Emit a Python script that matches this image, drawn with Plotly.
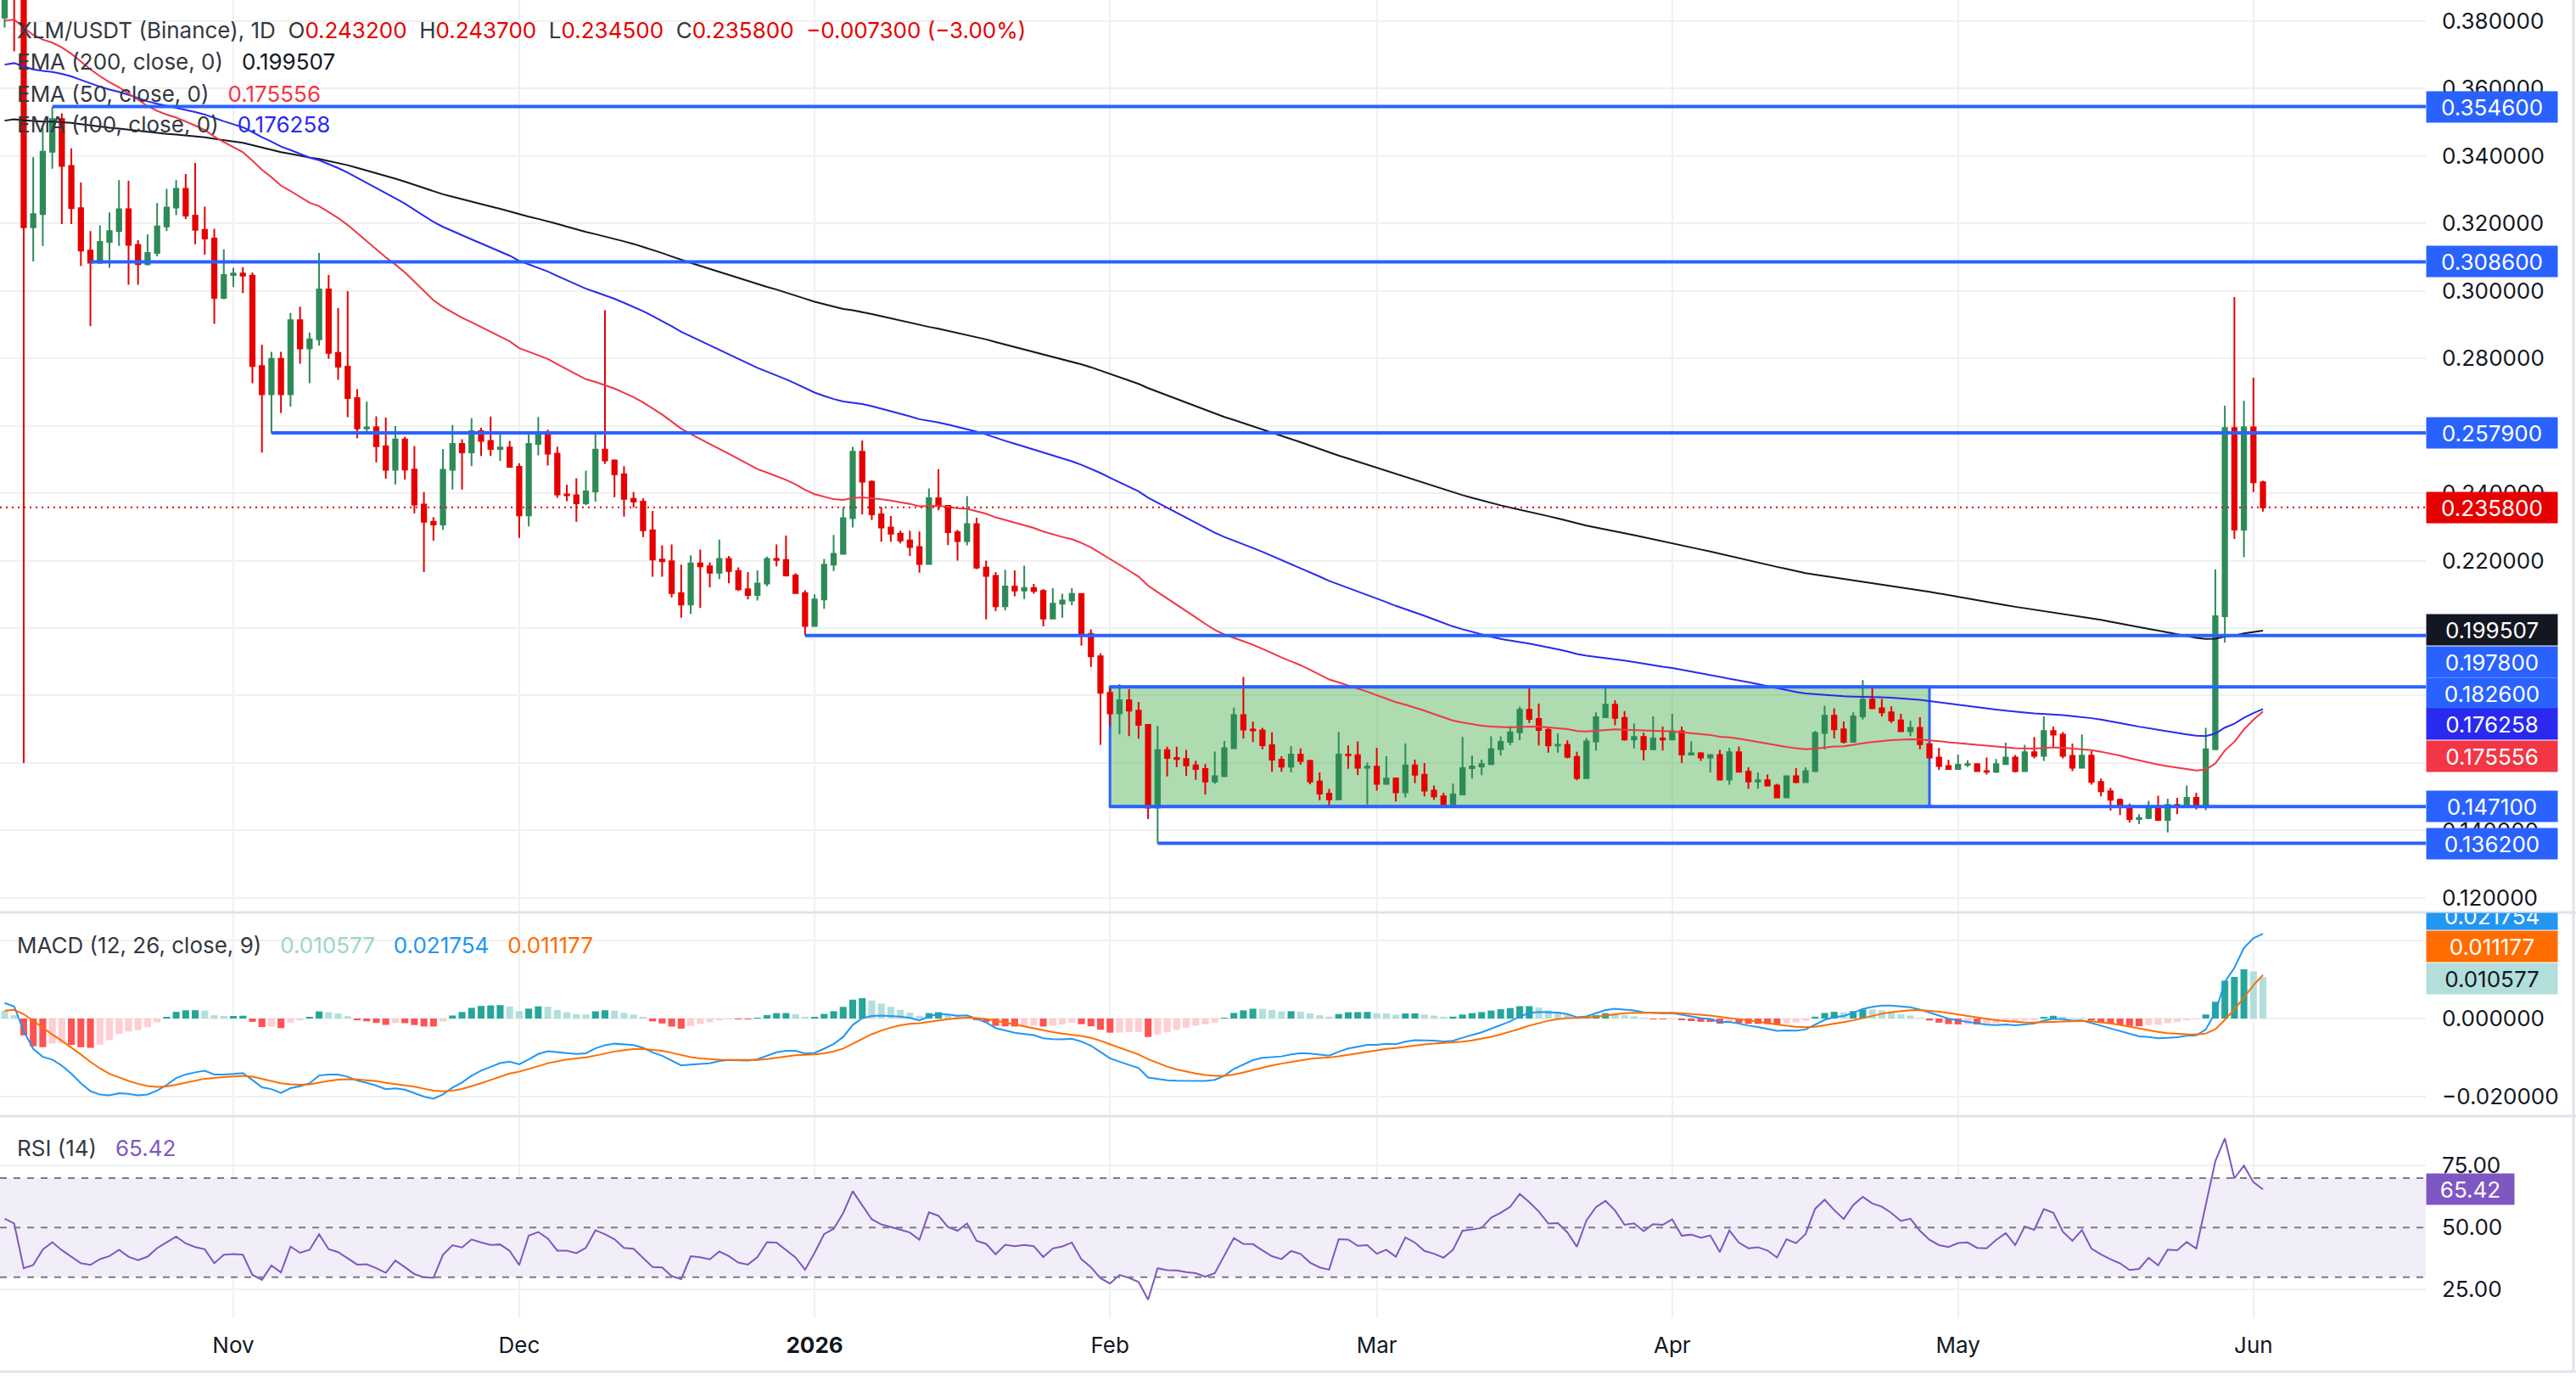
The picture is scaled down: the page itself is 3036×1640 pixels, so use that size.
import pandas as pd
import plotly.graph_objects as go
from plotly.subplots import make_subplots

# ---------------- data ----------------
START_DATE = "2025-10-08"

open_oct = [0.381, 0.394, 0.389, 0.3188, 0.3227, 0.3412, 0.3509, 0.3370, 0.3245, 0.3119, 0.3083, 0.3145,
            0.3177, 0.3242, 0.3136, 0.3079, 0.3112, 0.3191, 0.3247, 0.3302, 0.3223, 0.3181, 0.3155, 0.2979]
high_oct = [0.398, 0.397, 0.392, 0.3396, 0.3483, 0.3545, 0.3526, 0.3422, 0.3321, 0.3177, 0.3194, 0.3232,
            0.3328, 0.3326, 0.3150, 0.3167, 0.3260, 0.3302, 0.3328, 0.3346, 0.3379, 0.3249, 0.3184, 0.3123]
low_oct = [0.378, 0.371, 0.160, 0.3087, 0.3133, 0.3362, 0.3198, 0.3198, 0.3073, 0.2895, 0.3080, 0.3068,
           0.3133, 0.3018, 0.3018, 0.3075, 0.3102, 0.3177, 0.3224, 0.3213, 0.3138, 0.3107, 0.2902, 0.2975]
close_oct = [0.394, 0.389, 0.3188, 0.3227, 0.3412, 0.3509, 0.3370, 0.3245, 0.3119, 0.3083, 0.3145, 0.3177,
             0.3242, 0.3136, 0.3079, 0.3112, 0.3191, 0.3247, 0.3302, 0.3223, 0.3181, 0.3155, 0.2979, 0.3047]

open_nov = [0.3047, 0.3051, 0.3045, 0.2777, 0.2693, 0.2798, 0.2693, 0.2913, 0.2829, 0.2856, 0.3004, 0.2816,
            0.2775, 0.2682, 0.2592, 0.2595, 0.2539, 0.2469, 0.2559, 0.2470, 0.2366, 0.2315, 0.2307, 0.2469,
            0.2546, 0.2521, 0.2584, 0.2555, 0.2531, 0.2535]
high_nov = [0.3068, 0.3070, 0.3054, 0.2840, 0.2819, 0.2819, 0.2934, 0.2953, 0.2876, 0.3112, 0.3047, 0.2949,
            0.2999, 0.2708, 0.2671, 0.2628, 0.2624, 0.2599, 0.2567, 0.2540, 0.2403, 0.2329, 0.2531, 0.2602,
            0.2560, 0.2622, 0.2594, 0.2627, 0.2574, 0.2555]
low_nov = [0.3011, 0.2993, 0.2726, 0.2520, 0.2578, 0.2638, 0.2657, 0.2784, 0.2726, 0.2837, 0.2798, 0.2736,
           0.2625, 0.2563, 0.2580, 0.2491, 0.2443, 0.2426, 0.2440, 0.2340, 0.2166, 0.2259, 0.2291, 0.2411,
           0.2411, 0.2480, 0.2510, 0.2510, 0.2495, 0.2476]
close_nov = [0.3051, 0.3045, 0.2777, 0.2693, 0.2798, 0.2693, 0.2913, 0.2829, 0.2856, 0.3004, 0.2816, 0.2775,
             0.2682, 0.2592, 0.2595, 0.2539, 0.2469, 0.2559, 0.2470, 0.2366, 0.2315, 0.2307, 0.2469, 0.2546,
             0.2521, 0.2584, 0.2555, 0.2531, 0.2535, 0.2478]

open_dec = [0.2478, 0.2334, 0.2546, 0.2576, 0.2517, 0.2396, 0.2394, 0.2370, 0.2405, 0.2529, 0.2497, 0.2456,
            0.2383, 0.2375, 0.2290, 0.2203, 0.2198, 0.2104, 0.2070, 0.2192, 0.2183, 0.2164, 0.2205, 0.2169,
            0.2115, 0.2098, 0.2132, 0.2205, 0.2202, 0.2156, 0.2104]
high_dec = [0.2489, 0.2574, 0.2626, 0.2588, 0.2538, 0.2425, 0.2444, 0.2467, 0.2581, 0.2942, 0.2500, 0.2480,
            0.2403, 0.2385, 0.2347, 0.2245, 0.2248, 0.2188, 0.2216, 0.2233, 0.2195, 0.2262, 0.2214, 0.2180,
            0.2166, 0.2171, 0.2212, 0.2248, 0.2274, 0.2162, 0.2112]
low_dec = [0.2267, 0.2301, 0.2512, 0.2482, 0.2386, 0.2376, 0.2315, 0.2365, 0.2375, 0.2487, 0.2388, 0.2330,
           0.2357, 0.2270, 0.2152, 0.2152, 0.2091, 0.2031, 0.2042, 0.2060, 0.2121, 0.2145, 0.2133, 0.2110,
           0.2085, 0.2082, 0.2124, 0.2183, 0.2153, 0.2102, 0.1978]
close_dec = [0.2334, 0.2546, 0.2576, 0.2517, 0.2396, 0.2394, 0.2370, 0.2405, 0.2529, 0.2497, 0.2456, 0.2383,
             0.2375, 0.2290, 0.2203, 0.2198, 0.2104, 0.2070, 0.2192, 0.2183, 0.2164, 0.2205, 0.2169, 0.2115,
             0.2098, 0.2132, 0.2205, 0.2202, 0.2156, 0.2104, 0.2006]

open_jan = [0.2006, 0.2085, 0.2188, 0.2220, 0.2326, 0.2523, 0.2434, 0.2337, 0.2298, 0.2280, 0.2260, 0.2240,
            0.2190, 0.2385, 0.2362, 0.2284, 0.2258, 0.2308, 0.2179, 0.2155, 0.2065, 0.2123, 0.2111, 0.2119,
            0.2110, 0.2028, 0.2072, 0.2082, 0.2101, 0.1983, 0.1916]
high_jan = [0.2100, 0.2205, 0.2276, 0.2357, 0.2537, 0.2556, 0.2438, 0.2359, 0.2332, 0.2289, 0.2289, 0.2286,
            0.2414, 0.2471, 0.2364, 0.2291, 0.2391, 0.2327, 0.2200, 0.2166, 0.2173, 0.2171, 0.2185, 0.2131,
            0.2116, 0.2118, 0.2102, 0.2118, 0.2103, 0.1996, 0.1925]
low_jan = [0.2004, 0.2057, 0.2169, 0.2218, 0.2298, 0.2337, 0.2320, 0.2256, 0.2256, 0.2251, 0.2214, 0.2164,
           0.2188, 0.2349, 0.2246, 0.2200, 0.2245, 0.2175, 0.2026, 0.2050, 0.2053, 0.2094, 0.2086, 0.2102,
           0.2005, 0.2026, 0.2031, 0.2067, 0.1948, 0.1885, 0.1654]
close_jan = [0.2085, 0.2188, 0.2220, 0.2326, 0.2523, 0.2434, 0.2337, 0.2298, 0.2280, 0.2260, 0.2240, 0.2190,
             0.2385, 0.2362, 0.2284, 0.2258, 0.2308, 0.2179, 0.2155, 0.2065, 0.2123, 0.2111, 0.2119, 0.2110,
             0.2028, 0.2072, 0.2082, 0.2101, 0.1983, 0.1916, 0.1808]

open_feb = [0.1808, 0.1747, 0.1786, 0.1755, 0.1713, 0.1468, 0.1638, 0.1615, 0.1612, 0.1593, 0.1582, 0.1545,
            0.1561, 0.1644, 0.1742, 0.1699, 0.1697, 0.1653, 0.1610, 0.1589, 0.1625, 0.1606, 0.1545, 0.1509,
            0.1492, 0.1625, 0.1623, 0.1586]
high_feb = [0.1821, 0.1834, 0.1819, 0.1781, 0.1715, 0.1710, 0.1648, 0.1648, 0.1639, 0.1607, 0.1597, 0.1634,
            0.1665, 0.1764, 0.1855, 0.1723, 0.1704, 0.1691, 0.1620, 0.1650, 0.1643, 0.1610, 0.1572, 0.1523,
            0.1692, 0.1652, 0.1664, 0.1601]
low_feb = [0.1709, 0.1685, 0.1680, 0.1672, 0.1434, 0.1362, 0.1560, 0.1588, 0.1562, 0.1550, 0.1507, 0.1538,
           0.1558, 0.1642, 0.1673, 0.1662, 0.1641, 0.1574, 0.1574, 0.1572, 0.1595, 0.1537, 0.1490, 0.1473,
           0.1490, 0.1583, 0.1564, 0.1477]
close_feb = [0.1747, 0.1786, 0.1755, 0.1713, 0.1468, 0.1638, 0.1615, 0.1612, 0.1593, 0.1582, 0.1545, 0.1561,
             0.1644, 0.1742, 0.1699, 0.1697, 0.1653, 0.1610, 0.1589, 0.1625, 0.1606, 0.1545, 0.1509, 0.1492,
             0.1625, 0.1623, 0.1586, 0.1589]

open_mar = [0.1589, 0.1538, 0.1554, 0.1513, 0.1593, 0.1565, 0.1518, 0.1501, 0.1478, 0.1507, 0.1585, 0.1590,
            0.1597, 0.1641, 0.1663, 0.1691, 0.1758, 0.1731, 0.1698, 0.1652, 0.1654, 0.1618, 0.1555, 0.1664,
            0.1736, 0.1773, 0.1734, 0.1670, 0.1677, 0.1641, 0.1673]
high_mar = [0.1645, 0.1620, 0.1557, 0.1658, 0.1610, 0.1600, 0.1533, 0.1512, 0.1539, 0.1677, 0.1622, 0.1610,
            0.1679, 0.1679, 0.1710, 0.1767, 0.1824, 0.1776, 0.1708, 0.1687, 0.1667, 0.1633, 0.1674, 0.1750,
            0.1824, 0.1786, 0.1754, 0.1717, 0.1690, 0.1738, 0.1708]
low_mar = [0.1518, 0.1535, 0.1486, 0.1498, 0.1540, 0.1501, 0.1491, 0.1467, 0.1476, 0.1505, 0.1554, 0.1564,
           0.1595, 0.1622, 0.1653, 0.1668, 0.1719, 0.1652, 0.1631, 0.1631, 0.1614, 0.1549, 0.1553, 0.1637,
           0.1734, 0.1712, 0.1666, 0.1643, 0.1608, 0.1639, 0.1637]
close_mar = [0.1538, 0.1554, 0.1513, 0.1593, 0.1565, 0.1518, 0.1501, 0.1478, 0.1507, 0.1585, 0.1590, 0.1597,
             0.1641, 0.1663, 0.1691, 0.1758, 0.1731, 0.1698, 0.1652, 0.1654, 0.1618, 0.1555, 0.1664, 0.1736,
             0.1773, 0.1734, 0.1670, 0.1677, 0.1641, 0.1673, 0.1670]

open_apr = [0.1670, 0.1694, 0.1625, 0.1629, 0.1616, 0.1624, 0.1551, 0.1632, 0.1574, 0.1545, 0.1549, 0.1533,
            0.1498, 0.1561, 0.1543, 0.1576, 0.1689, 0.1740, 0.1700, 0.1663, 0.1738, 0.1788, 0.1762, 0.1750,
            0.1726, 0.1694, 0.1704, 0.1656, 0.1616, 0.1591]
high_apr = [0.1746, 0.1708, 0.1664, 0.1632, 0.1626, 0.1639, 0.1645, 0.1649, 0.1587, 0.1572, 0.1566, 0.1538,
            0.1563, 0.1585, 0.1587, 0.1695, 0.1770, 0.1762, 0.1723, 0.1750, 0.1846, 0.1824, 0.1790, 0.1768,
            0.1746, 0.1725, 0.1736, 0.1658, 0.1645, 0.1610]
low_apr = [0.1668, 0.1600, 0.1623, 0.1606, 0.1572, 0.1549, 0.1536, 0.1572, 0.1524, 0.1524, 0.1530, 0.1496,
           0.1496, 0.1540, 0.1541, 0.1573, 0.1640, 0.1673, 0.1658, 0.1661, 0.1729, 0.1760, 0.1738, 0.1719,
           0.1692, 0.1679, 0.1641, 0.1612, 0.1580, 0.1580]
close_apr = [0.1694, 0.1625, 0.1629, 0.1616, 0.1624, 0.1551, 0.1632, 0.1574, 0.1545, 0.1549, 0.1533, 0.1498,
             0.1561, 0.1543, 0.1576, 0.1689, 0.1740, 0.1700, 0.1663, 0.1738, 0.1788, 0.1762, 0.1750, 0.1726,
             0.1694, 0.1704, 0.1656, 0.1616, 0.1591, 0.1582]

open_may = [0.1582, 0.1595, 0.1597, 0.1576, 0.1574, 0.1597, 0.1616, 0.1576, 0.1632, 0.1621, 0.1695, 0.1684,
            0.1621, 0.1586, 0.1622, 0.1544, 0.1516, 0.1491, 0.1470, 0.1434, 0.1437, 0.1467, 0.1431, 0.1476,
            0.1473, 0.1497, 0.1472, 0.1641, 0.2035, 0.2593, 0.2292]
high_may = [0.1625, 0.1608, 0.1598, 0.1616, 0.1612, 0.1660, 0.1624, 0.1654, 0.1677, 0.1738, 0.1708, 0.1692,
            0.1658, 0.1685, 0.1635, 0.1554, 0.1526, 0.1495, 0.1480, 0.1448, 0.1488, 0.1503, 0.1494, 0.1497,
            0.1533, 0.1512, 0.1704, 0.2174, 0.2659, 0.2981, 0.2674]
low_may = [0.1580, 0.1588, 0.1574, 0.1566, 0.1570, 0.1595, 0.1572, 0.1574, 0.1614, 0.1606, 0.1648, 0.1614,
           0.1576, 0.1584, 0.1536, 0.1501, 0.1459, 0.1446, 0.1424, 0.1419, 0.1433, 0.1428, 0.1394, 0.1448,
           0.1470, 0.1462, 0.1460, 0.1638, 0.1957, 0.2264, 0.2210]
close_may = [0.1595, 0.1597, 0.1576, 0.1574, 0.1597, 0.1616, 0.1576, 0.1632, 0.1621, 0.1695, 0.1684, 0.1621,
             0.1586, 0.1622, 0.1544, 0.1516, 0.1491, 0.1470, 0.1434, 0.1437, 0.1467, 0.1431, 0.1476, 0.1473,
             0.1497, 0.1472, 0.1641, 0.2035, 0.2593, 0.2292, 0.2595]

open_jun = [0.2595, 0.2432]
high_jun = [0.2742, 0.2437]
low_jun = [0.2403, 0.2345]
close_jun = [0.2432, 0.2358]

EMA_SEEDS = {50: 0.3795, 100: 0.3665, 200: 0.3500}
MACD_SEED_FAST, MACD_SEED_SLOW, MACD_SEED_SIGNAL = 0.3965, 0.3920, 0.0015
RSI_SEED_PREV, RSI_SEED_GAIN, RSI_SEED_LOSS = 0.381, 0.0050, 0.0052

# drawn levels
resistance_levels = [0.3546, 0.3086, 0.2579, 0.1978, 0.1826, 0.1471, 0.1362]
resistance_starts = ["2025-10-13", "2025-10-17", "2025-11-05", "2025-12-31", "2026-02-01", "2026-02-01", "2026-02-06"]
range_box = dict(x0="2026-02-01", x1="2026-04-28", y0=0.1471, y1=0.1826)
last_price = 0.2358

price_ticks = [0.12, 0.14, 0.16, 0.18, 0.20, 0.22, 0.24, 0.26, 0.28, 0.30, 0.32, 0.34, 0.36, 0.38]
macd_ticks = [-0.02, 0.0, 0.02]
macd_tick_text = ["\u22120.020000", "0.000000", "0.020000"]
rsi_ticks = [25, 50, 75]
rsi_tick_text = ["25.00", "50.00", "75.00"]
month_ticks = ["2025-11-01", "2025-12-01", "2026-01-01", "2026-02-01", "2026-03-01", "2026-04-01", "2026-05-01", "2026-06-01"]
month_labels = ["Nov", "Dec", "<b>2026</b>", "Feb", "Mar", "Apr", "May", "Jun"]

opens = open_oct + open_nov + open_dec + open_jan + open_feb + open_mar + open_apr + open_may + open_jun
highs = high_oct + high_nov + high_dec + high_jan + high_feb + high_mar + high_apr + high_may + high_jun
lows = low_oct + low_nov + low_dec + low_jan + low_feb + low_mar + low_apr + low_may + low_jun
closes = close_oct + close_nov + close_dec + close_jan + close_feb + close_mar + close_apr + close_may + close_jun
assert len(opens) == len(highs) == len(lows) == len(closes)
dates = pd.date_range(START_DATE, periods=len(closes), freq="D")

# ---------------- indicators ----------------
def ema(vals, n, seed):
    k = 2.0 / (n + 1)
    e = seed
    out = []
    for v in vals:
        e = e + k * (v - e)
        out.append(e)
    return out

ema50 = ema(closes, 50, EMA_SEEDS[50])
ema100 = ema(closes, 100, EMA_SEEDS[100])
ema200 = ema(closes, 200, EMA_SEEDS[200])

fast = ema(closes, 12, MACD_SEED_FAST)
slow = ema(closes, 26, MACD_SEED_SLOW)
macd = [a - b for a, b in zip(fast, slow)]
signal = ema(macd, 9, MACD_SEED_SIGNAL)
hist = [m - s for m, s in zip(macd, signal)]
hist_colors = []
prev_h = (MACD_SEED_FAST - MACD_SEED_SLOW) - MACD_SEED_SIGNAL
for h in hist:
    if h >= 0:
        hist_colors.append("#26A69A" if h > prev_h else "#B2DFDB")
    else:
        hist_colors.append("#FFCDD2" if h > prev_h else "#FF5252")
    prev_h = h

rsi = []
prev, g, l = RSI_SEED_PREV, RSI_SEED_GAIN, RSI_SEED_LOSS
for c in closes:
    ch = c - prev
    prev = c
    g = (g * 13 + max(ch, 0)) / 14
    l = (l * 13 + max(-ch, 0)) / 14
    rsi.append(100 - 100 / (1 + g / l) if l > 0 else 100)

# ---------------- styling ----------------
W, H = 3036, 1640
PLOT_R, PLOT_B = 2859, 1553
FONT = "Inter, Roboto, 'Noto Sans', sans-serif"
FS = 26
TXT = "#131722"
GREEN = "#2E8B57"
RED = "#E60000"
BLUE_LINE = "#2962FF"
EMA50_C = "#F23645"
EMA100_C = "#2929F0"
EMA200_C = "#131722"
GRID = "#F0F0F0"
SEP = "#E0E3EB"
X_RANGE = ["2025-10-07 12:17", "2026-06-19 02:10"]

def px(x):
    return x / PLOT_R

def py(y):
    return 1 - y / PLOT_B

fig = make_subplots(rows=3, cols=1, shared_xaxes=True, vertical_spacing=0,
                    row_heights=[1075, 240, 238])

fig.add_trace(go.Candlestick(
    x=dates, open=opens, high=highs, low=lows, close=closes,
    increasing=dict(line=dict(color=GREEN, width=2), fillcolor=GREEN),
    decreasing=dict(line=dict(color=RED, width=2), fillcolor=RED),
    whiskerwidth=0, showlegend=False, hoverinfo="skip"), row=1, col=1)

for vals, col in [(ema200, EMA200_C), (ema100, EMA100_C), (ema50, EMA50_C)]:
    fig.add_trace(go.Scatter(x=dates, y=vals, mode="lines", line=dict(color=col, width=2),
                             showlegend=False, hoverinfo="skip"), row=1, col=1)

fig.add_trace(go.Bar(x=dates, y=hist, marker=dict(color=hist_colors, line=dict(width=0)),
                     width=0.72 * 86400000, showlegend=False, hoverinfo="skip"), row=2, col=1)
fig.add_trace(go.Scatter(x=dates, y=macd, mode="lines", line=dict(color="#2196F3", width=2),
                         showlegend=False, hoverinfo="skip"), row=2, col=1)
fig.add_trace(go.Scatter(x=dates, y=signal, mode="lines", line=dict(color="#FF6D00", width=2),
                         showlegend=False, hoverinfo="skip"), row=2, col=1)

fig.add_trace(go.Scatter(x=dates, y=rsi, mode="lines", line=dict(color="#7E57C2", width=2),
                         showlegend=False, hoverinfo="skip"), row=3, col=1)

fig.update_layout(width=W, height=H, margin=dict(l=0, r=W - PLOT_R, t=0, b=H - PLOT_B),
                  paper_bgcolor="white", plot_bgcolor="white", showlegend=False,
                  boxgap=0.33, hovermode=False, font=dict(family=FONT, size=FS, color=TXT))

fig.update_xaxes(type="date", range=X_RANGE, showgrid=True, gridcolor=GRID, gridwidth=2,
                 tickvals=month_ticks, ticktext=month_labels, zeroline=False, showline=False,
                 ticks="", rangeslider_visible=False, fixedrange=True)
fig.update_xaxes(showticklabels=False, row=1, col=1)
fig.update_xaxes(showticklabels=False, row=2, col=1)
fig.update_xaxes(showticklabels=True, tickfont=dict(size=FS, color=TXT, family=FONT),
                 ticklabelstandoff=14, row=3, col=1)

fig.update_yaxes(side="right", showgrid=True, gridcolor=GRID, gridwidth=2, zeroline=False,
                 showline=False, ticks="", tickfont=dict(size=FS, color=TXT, family=FONT),
                 ticklabelstandoff=18, fixedrange=True)
fig.update_yaxes(range=[0.1157, 0.3862], tickvals=price_ticks,
                 ticktext=[f"{v:.6f}" for v in price_ticks], row=1, col=1)
fig.update_yaxes(range=[-0.02508, 0.02726], tickvals=macd_ticks, ticktext=macd_tick_text, row=2, col=1)
fig.update_yaxes(range=[13.46, 94.97], tickvals=rsi_ticks, ticktext=rsi_tick_text, row=3, col=1)

shapes = []
# consolidation box (above the grid, below the candles)
shapes.append(dict(type="rect", xref="x", yref="y", layer="between",
                   fillcolor="rgba(76,175,80,0.45)", line=dict(color=BLUE_LINE, width=3), **range_box))
# horizontal levels
for lvl, st in zip(resistance_levels, resistance_starts):
    shapes.append(dict(type="line", xref="x", yref="y", x0=st, x1=X_RANGE[1], y0=lvl, y1=lvl,
                       line=dict(color=BLUE_LINE, width=4), layer="above"))
# last price dotted line
shapes.append(dict(type="line", xref="paper", yref="y", x0=0, x1=1, y0=last_price, y1=last_price,
                   line=dict(color=RED, width=2, dash="2px,5px"), layer="above"))
# RSI band and levels
shapes.append(dict(type="rect", xref="paper", yref="y3", x0=0, x1=1, y0=30, y1=70,
                   fillcolor="rgba(126,87,194,0.10)", line=dict(width=0), layer="between"))
for lv in (70, 50, 30):
    shapes.append(dict(type="line", xref="paper", yref="y3", x0=0, x1=1, y0=lv, y1=lv,
                       line=dict(color="#787B86", width=2, dash="8px,8px"), layer="above"))
# pane separators and outer frame
for yy in (1075, 1315):
    shapes.append(dict(type="line", xref="paper", yref="paper", x0=0, x1=W / PLOT_R, y0=py(yy), y1=py(yy),
                       line=dict(color=SEP, width=3), layer="above"))
shapes.append(dict(type="line", xref="paper", yref="paper", x0=0, x1=W / PLOT_R, y0=py(1616), y1=py(1616),
                   line=dict(color=SEP, width=3), layer="above"))
shapes.append(dict(type="line", xref="paper", yref="paper", x0=px(3033), x1=px(3033), y0=py(1616), y1=1,
                   line=dict(color=SEP, width=3), layer="above"))
fig.update_layout(shapes=shapes)

# ---------------- text ----------------
S = "\u00a0\u00a0"
S3 = "\u00a0\u00a0\u00a0"
def col(t, c):
    return f"<span style='color:{c}'>{t}</span>"

legend_rows = [
    (36, "XLM/USDT (Binance), 1D" + S + "O" + col("0.243200", RED) + S + "H" + col("0.243700", RED) + S
     + "L" + col("0.234500", RED) + S + "C" + col("0.235800", RED) + S + col("\u22120.007300 (\u22123.00%)", RED)),
    (72, "EMA (200, close, 0)" + S3 + col("0.199507", EMA200_C)),
    (110, "EMA (50, close, 0)" + S3 + col("0.175556", EMA50_C)),
    (147, "EMA (100, close, 0)" + S3 + col("0.176258", EMA100_C)),
    (1113, "MACD (12, 26, close, 9)" + S3 + col("0.010577", "#9AD6CD") + S3 + col("0.021754", "#2196F3")
     + S3 + col("0.011177", "#FF6D00")),
    (1352, "RSI (14)" + S3 + col("65.42", "#7E57C2")),
]
for yy, txt in legend_rows:
    fig.add_annotation(xref="paper", yref="paper", x=px(18), y=py(yy), xanchor="left", yanchor="middle",
                       text=txt, showarrow=False, font=dict(size=FS, color="#333840", family=FONT), align="left")

def tag(text, yval, yref, bg, fg="white", shift=0, w=150, h=32, pad=2, valign="middle"):
    fig.add_annotation(xref="paper", x=1, xanchor="left", yref=yref, y=yval, yanchor="middle", yshift=shift,
                       text=text, showarrow=False, bgcolor=bg, width=w, height=h, borderpad=pad,
                       align="center", valign=valign, font=dict(size=FS, color=fg, family=FONT))

tag("0.354600", 0.3546, "y", BLUE_LINE)
tag("0.308600", 0.3086, "y", BLUE_LINE)
tag("0.257900", 0.2579, "y", BLUE_LINE)
tag("0.235800", 0.2358, "y", RED)
tag("0.199507", 0.199507, "y", "#131722")
tag("0.197800", 0.1978, "y", BLUE_LINE, shift=-31)
tag("0.182600", 0.1826, "y", BLUE_LINE, shift=-8)
tag("0.176258", 0.176258, "y", EMA100_C, shift=-19)
tag("0.175556", 0.175556, "y", EMA50_C, shift=-54)
tag("0.147100", 0.1471, "y", BLUE_LINE)
tag("0.136200", 0.1362, "y", BLUE_LINE)
tag("0.021754", 0.021754, "y2", "#2196F3", shift=15, h=19, pad=0, w=154, valign="bottom")
tag("0.011177", 0.011177, "y2", "#FF6D00", shift=34)
tag("0.010577", 0.010577, "y2", "#B2DFDB", fg="#131722", shift=-1)
tag("65.42", 65.42, "y3", "#7E57C2", w=99)

fig.write_html("out.html", config={"displayModeBar": False})
